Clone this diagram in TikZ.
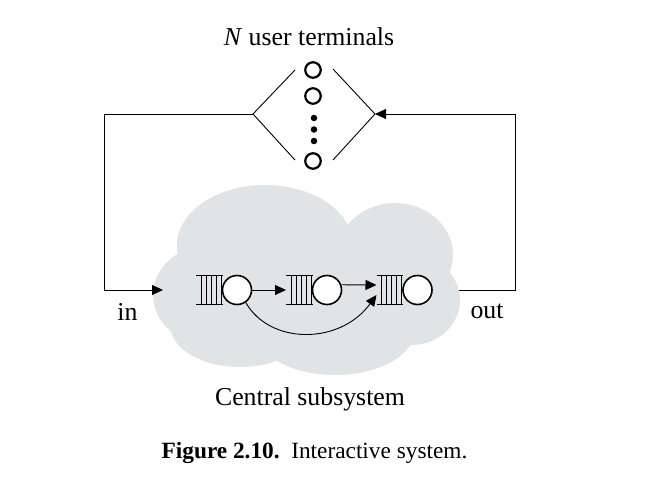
\documentclass[tikz,border=0pt]{standalone}
\usepackage{fontspec}
\setmainfont{Liberation Serif}
\usetikzlibrary{arrows.meta}
\definecolor{cloudgray}{RGB}{226,227,228}
\tikzset{
  conn/.style={line width=0.9pt},
  arr/.style={line width=0.9pt,-{Triangle[length=11pt,width=10pt]}},
  term/.style={circle,draw,line width=2.2pt,minimum size=15.5pt,inner sep=0pt},
  tdot/.style={circle,fill,minimum size=6.5pt,inner sep=0pt},
  server/.style={circle,draw,fill=white,line width=1.6pt,minimum size=29pt,inner sep=0pt},
  qbox/.style={rectangle,minimum width=26.5pt,minimum height=29pt,inner sep=0pt,outer sep=0pt},
  lbl/.style={font=\fontsize{25.8}{30}\selectfont,inner sep=0pt,anchor=base},
}
\begin{document}
\begin{tikzpicture}[x=1pt,y=-1pt]
\useasboundingbox (0,0) rectangle (646,480);
% cloud
\begin{scope}[fill=cloudgray]
  \fill (265,245) ellipse [x radius=88, y radius=60];
  \fill (395,255) ellipse [x radius=58, y radius=52];
  \fill (412,300) ellipse [x radius=48, y radius=45];
  \fill (210,295) ellipse [x radius=57, y radius=50];
  \fill (240,325) ellipse [x radius=70, y radius=42];
  \fill (335,330) ellipse [x radius=80, y radius=45];
  \fill (200,250) rectangle (410,340);
\end{scope}
% title
\node[lbl] (title) at (309,45) {\textit{N} user terminals};
% terminals
\node[term] (t1) at (313,70) {};
\node[term] (t2) at (313,96) {};
\node[tdot] (d1) at (314,118) {};
\node[tdot] (d2) at (314,129.5) {};
\node[tdot] (d3) at (314,141) {};
\node[term] (t3) at (313,161) {};
% diamond
\coordinate (dl) at (253,114);
\coordinate (dr) at (375,114);
\coordinate (dlu) at (295,70);
\coordinate (dld) at (295,160);
\coordinate (dru) at (333,69);
\coordinate (drd) at (333,160);
\draw[conn] (dlu) -- (dl) -- (dld);
\draw[conn] (dru) -- (dr) -- (drd);
% queues
\foreach \i/\x in {1/196,2/286,3/376.5}{
  \node[qbox] (q\i) at (\x+13.25,290) {};
  \draw[line width=1.8pt] (q\i.north west) -- (q\i.north east);
  \draw[line width=1.8pt] (q\i.south west) -- (q\i.south east);
  \foreach \k in {5,10,15,20,25}{
    \draw[line width=0.9pt] ([xshift=\k pt]q\i.north west) -- ([xshift=\k pt]q\i.south west);
  }
  \node[server] (s\i) at (\x+41,290) {};
}
% internal connectors
\draw[arr] (s1.east) -- (q2.west);
\draw[arr] (s2.20) -- ([yshift=5pt]q3.west);
\draw[arr] (s1.-55) .. controls (270,345) and (340,345) .. ([yshift=-5pt]q3.west);
% loops
\coordinate (inpt) at (163,290);
\coordinate (outpt) at (459,290);
\draw[arr] (dl) -- (104,114) -- (104,290) -- (inpt);
\draw[arr] (outpt) -- (515,290) -- (515,114) -- (dr);
% labels
\node[lbl] (in) at (127.5,320) {in};
\node[lbl] (out) at (487,318) {out};
\node[lbl] (central) at (310,405) {Central subsystem};
\node[inner sep=0pt,anchor=base,font=\fontsize{23.3}{28}\selectfont] (cap) at (314.5,458) {\textbf{Figure 2.10.}\hspace{0.5em}Interactive system.};
\end{tikzpicture}
\end{document}
